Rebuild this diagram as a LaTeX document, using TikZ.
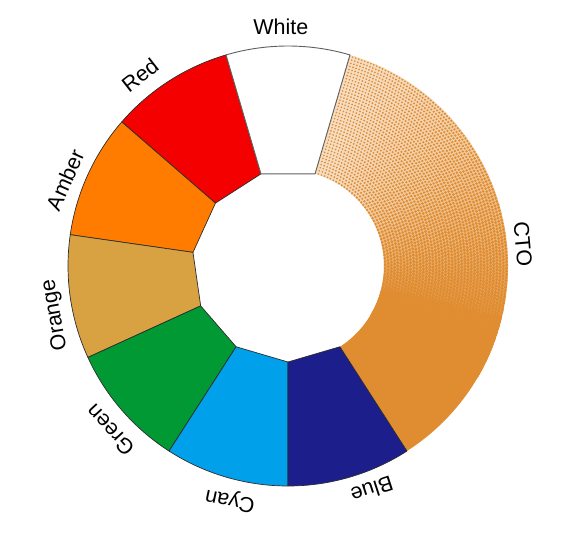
\documentclass[tikz,border=0pt]{standalone}
\usepackage{fontspec}
\setmainfont{Liberation Sans}
\definecolor{cRed}{RGB}{245,0,0}
\definecolor{cAmber}{RGB}{255,124,0}
\definecolor{cOrange}{RGB}{216,162,66}
\definecolor{cGreen}{RGB}{0,153,51}
\definecolor{cCyan}{RGB}{0,160,235}
\definecolor{cBlue}{RGB}{28,30,140}
\definecolor{cCTO}{RGB}{224,140,48}
\definecolor{edgec}{RGB}{45,45,45}
\definecolor{whiteedge}{RGB}{95,95,95}
\newcommand\ringseg[3]{%
  \draw[segline,fill=#3] (#1:96) -- (#1:220) arc[start angle=#1,end angle=#2,radius=220] -- (#2:96) -- cycle;}
\begin{document}
\begin{tikzpicture}[x=1pt,y=1pt,
  segline/.style={draw=edgec,line width=0.7pt,line join=round},
  lbl/.style={font=\fontsize{21.5}{24}\selectfont,inner sep=0pt,anchor=center}]
\useasboundingbox (-288,-270) rectangle (294,266);
% CTO segment with halftone gradient
\begin{scope}
  \clip (302.73:96) -- (302.73:220) arc[start angle=302.73,end angle=433.64,radius=220]
        -- (433.64:96) arc[start angle=433.64,end angle=302.73,radius=96] -- cycle;
  \fill[cCTO] (302:90) -- (302:226) arc[start angle=302,end angle=332,radius=226] -- (332:90) -- cycle;
  % base tone
  \foreach \k in {0,...,51} {
    \pgfmathsetmacro\ba{330+\k*2}
    \pgfmathsetmacro\bb{\ba+2.5}
    \pgfmathtruncatemacro\pp{30+70*((433.64-\ba-1)/103.64)^1.6}
    \fill[cCTO!\pp!white] (\ba:90) -- (\ba:226) arc[start angle=\ba,end angle=\bb,radius=226] -- (\bb:90) -- cycle;
  }
  \foreach \i in {0,...,39} {
    \pgfmathsetmacro\rr{97+\i*3.2}
    \pgfmathtruncatemacro\nn{\rr*0.5654}
    \foreach \j in {0,...,\nn} {
      \pgfmathsetmacro\aa{330+\j*103.64/\nn}
      \pgfmathsetmacro\tt{(433.64-\aa)/103.64}
      \pgfmathsetmacro\dd{0.9+1.0*\tt+0.5*\tt^4}
      \fill[cCTO] (\aa:\rr) circle[radius=\dd];
    }
  }
\end{scope}
% colour segments
\ringseg{106.36}{139.09}{cRed}
\ringseg{139.09}{171.82}{cAmber}
\ringseg{171.82}{204.55}{cOrange}
\ringseg{204.55}{237.27}{cGreen}
\ringseg{237.27}{270}{cCyan}
\ringseg{270}{302.73}{cBlue}
\draw[draw=whiteedge,line width=0.9pt,fill=white,line join=round] (73.64:96) -- (73.64:220)
  arc[start angle=73.64,end angle=106.36,radius=220] -- (106.36:96) -- cycle;
% labels
\node[lbl] (lwhite) at (91.7:239) {White};
\node[lbl,rotate=38] (lred) at (127.8:241.5) {Red};
\node[lbl,rotate=66] (lamber) at (158.9:239) {Amber};
\node[lbl,rotate=100] (lorange) at (191.9:238) {Orange};
\node[lbl,rotate=132.6] (lgreen) at (222.7:242) {Green};
\node[lbl,rotate=168] (lcyan) at (256.1:241) {Cyan};
\node[lbl,rotate=198] (lblue) at (290.6:239) {Blue};
\node[lbl,rotate=-85] (lcto) at (5.3:236) {CTO};
\end{tikzpicture}
\end{document}
